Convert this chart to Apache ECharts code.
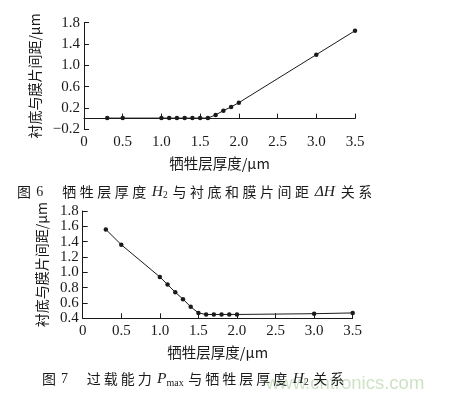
<!DOCTYPE html>
<html>
<head>
<meta charset="utf-8">
<script src="https://cdn.jsdelivr.net/npm/echarts@6/dist/echarts.min.js"></script>
<style>html,body{margin:0;padding:0;background:#fff;}#c{width:453px;height:401px;}</style>
</head>
<body>
<div id="c"></div>
<script>
// Fig.6: sacrificial layer thickness vs substrate-membrane gap
var thickness1 = [0.3, 0.5, 1.0, 1.1, 1.2, 1.3, 1.4, 1.5, 1.6, 1.7, 1.8, 1.9, 2.0, 3.0, 3.5];
var gap1 = [0.01, 0.01, 0.01, 0.01, 0.01, 0.01, 0.01, 0.01, 0.01, 0.07, 0.15, 0.22, 0.30, 1.20, 1.65];
// Fig.7
var thickness2 = [0.3, 0.5, 1.0, 1.1, 1.2, 1.3, 1.4, 1.5, 1.6, 1.7, 1.8, 1.9, 2.0, 3.0, 3.5];
var gap2 = [1.56, 1.36, 0.94, 0.84, 0.74, 0.65, 0.55, 0.47, 0.45, 0.45, 0.45, 0.45, 0.45, 0.46, 0.47];

var xTickLabels = ['0', '0.5', '1.0', '1.5', '2.0', '2.5', '3.0', '3.5'];
var yAxisName = '衬底与膜片间距/μm';
var xAxisName = '牺牲层厚度/μm';

var serif = 'Liberation Serif';
var cjk = 'Noto Sans CJK SC';
var ink = '#1a1a1a';

function pair(xs, ys) { return xs.map(function (x, i) { return [x, ys[i]]; }); }
function fmtY(v) { return v < 0 ? '\u2212' + Math.abs(v).toFixed(1) : v.toFixed(1); }
function fmtX(v) { return xTickLabels[Math.round(v / 0.5)]; }

function xAx(gi) {
  return {
    type: 'value', gridIndex: gi, min: 0, max: 3.5, interval: 0.5,
    axisLine: { lineStyle: { color: ink, width: 1 } },
    axisTick: { inside: true, length: 5, lineStyle: { color: ink } },
    axisLabel: { formatter: fmtX, color: ink, fontFamily: serif, fontSize: 15, margin: 5 },
    splitLine: { show: false },
    name: xAxisName, nameLocation: 'middle', nameGap: 27,
    nameTextStyle: { fontFamily: cjk, fontSize: 14.5, color: ink }
  };
}
function yAx(gi, mn, mx, iv, gap) {
  return {
    type: 'value', gridIndex: gi, min: mn, max: mx, interval: iv,
    axisLine: { show: true, lineStyle: { color: ink, width: 1 } },
    axisTick: { show: true, inside: true, length: 5, lineStyle: { color: ink } },
    axisLabel: { formatter: fmtY, color: ink, fontFamily: serif, fontSize: 15, margin: 4 },
    splitLine: { show: false },
    name: yAxisName, nameLocation: 'middle', nameRotate: 90, nameGap: gap,
    nameTextStyle: { fontFamily: cjk, fontSize: 14, color: ink }
  };
}
function ser(xi, yi, data) {
  return {
    type: 'line', xAxisIndex: xi, yAxisIndex: yi, data: data,
    symbol: 'circle', symbolSize: 4.5, showSymbol: true,
    itemStyle: { color: ink }, lineStyle: { color: ink, width: 1 }
  };
}
function seg(s) { return s.split('').map(function (ch) { return '{c|' + ch + '}'; }).join(''); }
function richStyles(pad) {
  return {
    c: { fontFamily: cjk, fontSize: 14, fill: ink, padding: [0, pad, 0, pad] },
    n: { fontFamily: serif, fontSize: 14, fill: ink },
    i: { fontFamily: serif, fontStyle: 'italic', fontSize: 15.5, fill: ink },
    s: { fontFamily: serif, fontSize: 9.5, fill: ink, padding: [7, 0, 0, 0] },
    m: { fontFamily: serif, fontSize: 10, fill: ink, padding: [8, 0, 0, 0] }
  };
}

var caption1 = seg('图') + '{n| 6}　 ' + seg('牺牲层厚度') + '{i| H}{s|2} ' + seg('与衬底和膜片间距') + '{i| ΔH }' + seg('关系');
var caption2 = seg('图') + '{n| 7}　 ' + seg('过载能力') + '{i| P}{m|max} ' + seg('与牺牲层厚度') + '{i| H}{s|2} ' + seg('关系');

var chart = echarts.init(document.getElementById('c'));
chart.setOption({
  animation: false,
  backgroundColor: '#fff',
  grid: [
    { left: 84, right: 98, top: 22.7, bottom: 271.7 },
    { left: 82.7, right: 100.3, top: 211, bottom: 82.7 }
  ],
  xAxis: [xAx(0), xAx(1)],
  yAxis: [yAx(0, -0.2, 1.8, 0.4, 40), yAx(1, 0.4, 1.8, 0.2, 34)],
  series: [ser(0, 0, pair(thickness1, gap1)), ser(1, 1, pair(thickness2, gap2))],
  graphic: [
    {
      type: 'text', left: 266, top: 374, z: 0,
      style: { text: 'www.cntronics.com', fontFamily: 'Liberation Sans', fontSize: 18.5, fill: '#cfe2c6' }
    },
    {
      type: 'text', left: 17, top: 184, z: 10,
      style: { text: caption1, fontFamily: cjk, fontSize: 14, fill: ink, rich: richStyles(1.75) }
    },
    {
      type: 'text', left: 42, top: 371, z: 10,
      style: { text: caption2, fontFamily: cjk, fontSize: 14, fill: ink, rich: richStyles(1.5) }
    }
  ]
});
</script>
</body>
</html>
